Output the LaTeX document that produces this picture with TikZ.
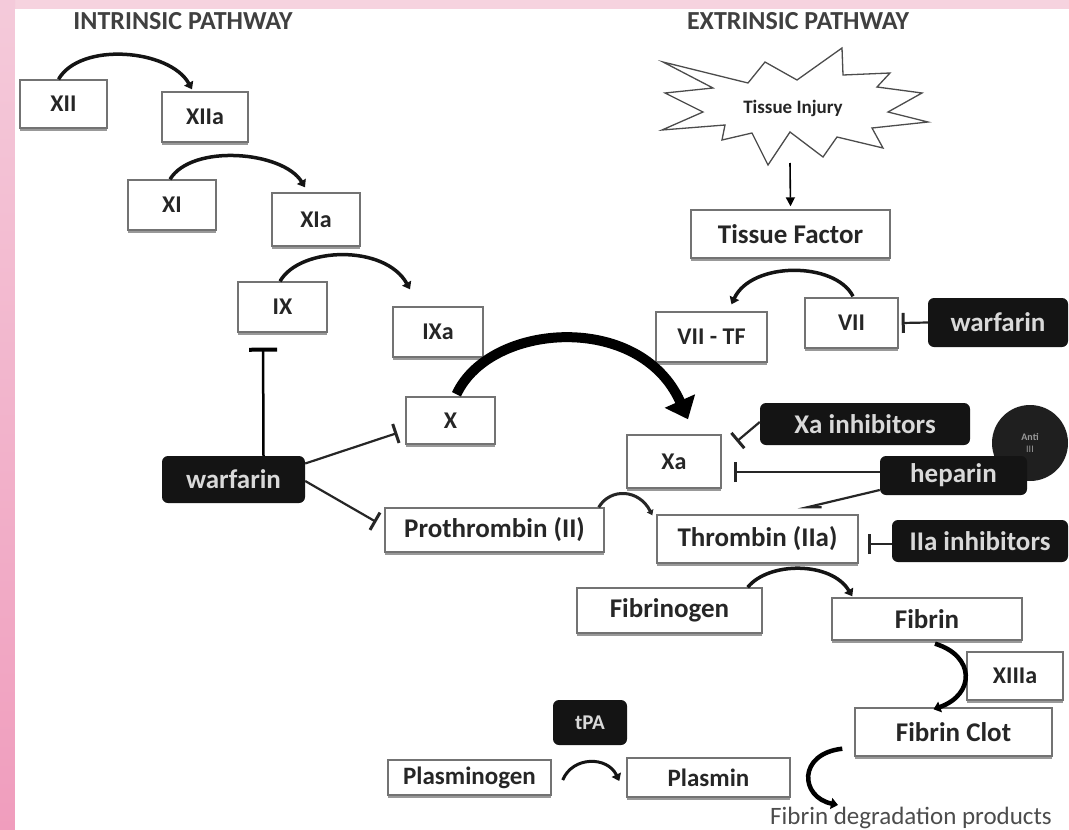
\documentclass[tikz,border=0pt]{standalone}
\usepackage{fontspec}
\setmainfont{Carlito}
\usetikzlibrary{arrows.meta,shadows}
\newcommand{\myfs}[1]{\fontsize{#1}{#1}\selectfont\bfseries}
\definecolor{txt}{HTML}{262626}
\definecolor{pinktop}{HTML}{F6D3DF}
\definecolor{pinkA}{HTML}{F4CADA}
\definecolor{pinkB}{HTML}{F09DBD}
\begin{document}
\begin{tikzpicture}[x=1pt,y=-1pt,
  sz/.style 2 args={minimum width=#1pt, minimum height=#2pt},
  box/.style={draw=black!55, line width=1.4pt, fill=white, text=txt, inner sep=0pt,
    drop shadow={shadow xshift=0pt, shadow yshift=-2.5pt, fill=black!40, opacity=1}},
  blk/.style={fill=black!92, rounded corners=6pt, text=black!15, inner sep=0pt},
  arc/.style={line width=3.5pt, draw=black!92, -{Triangle[length=7pt,width=10pt]}},
  inh/.style={line width=2.2pt, draw=black!85, -{Bar[width=20pt,line width=3pt]}},
  ttl/.style={text=black!75, inner sep=0pt}
]
\useasboundingbox (0,0) rectangle (1069,830);
% background
\fill[pinktop] (0,0) rectangle (1069,9);
\shade[top color=pinkA, bottom color=pinkB] (0,0) rectangle (15,830);
\fill[white] (15,9) rectangle (1069,830);

% titles
\node[ttl] (intr) at (183,21) {\myfs{26}INTRINSIC PATHWAY};
\node[ttl] (extr) at (798,21) {\myfs{26}EXTRINSIC PATHWAY};

% intrinsic boxes
\node[box, sz={87}{48}] (xii)  at (63.5,104) {\myfs{24}XII};
\node[box, sz={86}{50}] (xiia) at (205,117)  {\myfs{24}XIIa};
\node[box, sz={88}{50}] (xi)   at (172,205)  {\myfs{24}XI};
\node[box, sz={88}{53}] (xia)  at (316,219.5) {\myfs{24}XIa};
\node[box, sz={89}{50}] (ix)   at (282.5,307) {\myfs{24}IX};
\node[box, sz={90}{50}] (ixa)  at (438,332)  {\myfs{24}IXa};
\node[box, sz={89}{47}] (x)    at (450.5,420.5) {\myfs{24}X};
\node[box, sz={94}{53}] (xa)   at (674,461.5) {\myfs{24}Xa};
\node[box, sz={219}{44}] (proth) at (494.5,530) {\myfs{27}Prothrombin (II)};
\node[box, sz={201}{48}] (thromb) at (757.5,539) {\myfs{27}Thrombin (IIa)};

% extrinsic
\draw[line width=1.3pt, draw=black!70, fill=white]
  (663,62) -- (713,88) -- (665,93) -- (703,112) -- (662,130) -- (725,125) -- (722,140)
  -- (752,133) -- (768,165) -- (790,132) -- (823,157) -- (837,137) -- (883,148)
  -- (872,128) -- (928,122) -- (888,112) -- (922,93) -- (877,87) -- (890,73)
  -- (843,75) -- (842,48) -- (797,80) -- (765,62) -- (748,83) -- cycle;
\node[text=txt, inner sep=0pt] (injury) at (793,108) {\myfs{19}Tissue Injury};
\coordinate (injbot) at (790,163);
\node[box, sz={199}{48}] (tf)   at (790.5,234) {\myfs{27}Tissue Factor};
\node[box, sz={111}{50}] (viitf) at (711.5,337) {\myfs{24}VII - TF};
\node[box, sz={93}{50}]  (vii)  at (851.5,323) {\myfs{24}VII};

% black labels
\node[blk, sz={140}{49}] (warfR) at (998,322.5) {\myfs{27}warfarin};
\node[blk, sz={143}{47}] (warfL) at (233.5,479.5) {\myfs{27}warfarin};
\node[blk, sz={210}{42}] (xainh) at (865,424) {\myfs{27}Xa inhibitors};
\node[circle, fill=black!88, minimum size=76pt, inner sep=0pt, text=black!40, align=center] (anti) at (1030,443) {\myfs{10}Anti\\III};
\node[blk, sz={147}{39}] (hep) at (953.5,475.5) {\myfs{27}heparin};
\node[blk, sz={176}{42}] (iiainh) at (980,541) {\myfs{27}IIa inhibitors};

% common pathway
\node[box, sz={185}{45}] (fibrinogen) at (669.5,610.5) {\myfs{27}Fibrinogen};
\node[box, sz={190}{42}] (fibrin) at (927,619) {\myfs{27}Fibrin};
\node[box, sz={96}{48}]  (xiiia) at (1015,676) {\myfs{24}XIIIa};
\node[box, sz={197}{48}] (clot) at (953.5,732) {\myfs{27}Fibrin Clot};
\node[blk, sz={74}{45}]  (tpa) at (590,722.5) {\myfs{21}tPA};
\node[box, sz={163}{35}] (plasminogen) at (469.5,777.5) {\myfs{25}Plasminogen};
\node[box, sz={163}{39}] (plasmin) at (708.5,777.5) {\myfs{25}Plasmin};
\node[text=black!70, inner sep=0pt] (fdp) at (911,818) {\fontsize{25}{25}\selectfont Fibrin degradation products};

% activation arcs
\draw[arc] ([xshift=-5pt]xii.north) .. controls +(22,-38) and +(-22,-40) .. ([xshift=-13pt,yshift=2pt]xiia.north);
\draw[arc] ([xshift=-2pt]xi.north) .. controls +(22,-36) and +(-22,-36) .. ([xshift=-11pt,yshift=5pt]xia.north);
\draw[arc] ([xshift=-2.5pt]ix.north) .. controls +(20,-35) and +(-25,-45) .. ([xshift=-28pt,yshift=17pt]ixa.north);
\draw[line width=10pt, -{Triangle[length=20pt,width=32pt]}] ([xshift=6pt,yshift=2pt]x.north) .. controls +(33,-72) and +(-48,-108) .. ([xshift=14pt,yshift=15pt]xa.north);
\draw[line width=1.6pt, -{Triangle[length=9pt,width=9pt]}] (injbot) -- ([yshift=3pt]tf.north);
\draw[arc] ([xshift=1.5pt,yshift=1pt]vii.north) .. controls +(-18,-35) and +(20,-43) .. ([xshift=20pt,yshift=7pt]viitf.north);
\draw[line width=3pt, draw=black!85, -{Triangle[length=5pt,width=7pt]}] ([xshift=-6pt]proth.north east) .. controls +(12,-20) and +(-13,-26) .. ([xshift=-4pt,yshift=-1pt]thromb.north west);
\draw[arc] ([xshift=-15pt]fibrinogen.north east) .. controls +(21,-26) and +(-21,-35) .. ([xshift=21pt,yshift=1pt]fibrin.north west);
\draw[line width=4.5pt, -{Triangle[length=7pt,width=11pt]}] ([xshift=8pt,yshift=-3pt]fibrin.south) .. controls +(40,12) and +(42,-15) .. ([xshift=-20pt,yshift=-2pt]clot.north);
\draw[arc, line width=3pt] ([xshift=11pt,yshift=-2.5pt]plasminogen.east) .. controls +(10,-24) and +(-12,-25) .. ([xshift=-7pt,yshift=-3.5pt]plasmin.west);
\draw[line width=4.5pt, -{Triangle[length=7pt,width=11pt]}] ([xshift=-12pt,yshift=8pt]clot.south west) .. controls +(-45,5) and +(-38,-8) .. ([xshift=-73pt,yshift=2pt]fdp.north);

% inhibition
\draw[line width=2.5pt, -{Bar[width=28pt,line width=4pt]}, shorten >=15pt] ([xshift=30pt]warfL.north) -- ([xshift=-19.5pt]ix.south);
\draw[inh] ([yshift=16pt]warfL.east) -- ([xshift=-8pt,yshift=-12.5pt]x.west);
\draw[inh] ([yshift=-1.5pt]warfL.east) -- ([xshift=-8pt,yshift=8pt]proth.west);
\draw[inh] (warfR.west) -- ([xshift=3pt]vii.east);
\draw[inh] ([yshift=2pt]xainh.west) -- ([xshift=15pt,yshift=20pt]xa.east);
\draw[inh] ([yshift=3.5pt]hep.west) -- ([xshift=12pt,yshift=-10.5pt]xa.east);
\draw[line width=2.2pt, draw=black!85] ([yshift=-14.5pt]hep.west) -- ([xshift=49.5pt,yshift=7pt]thromb.north) -- ([xshift=64pt,yshift=7pt]thromb.north);
\draw[inh] ([yshift=-3pt]iiainh.west) -- ([xshift=9pt,yshift=-5pt]thromb.east);
\end{tikzpicture}
\end{document}
